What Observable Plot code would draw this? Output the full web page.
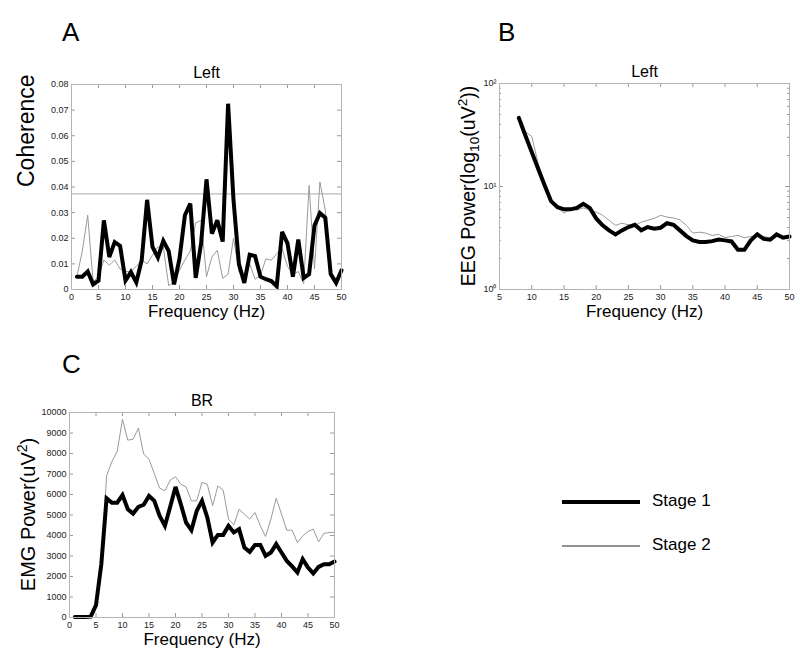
<!DOCTYPE html>
<html>
<head>
<meta charset="utf-8">
<script src="https://cdn.jsdelivr.net/npm/d3@7"></script>
<script src="https://cdn.jsdelivr.net/npm/@observablehq/plot@0.6"></script>
<style>
  body { margin: 0; background: #fff; }
  #page { position: relative; width: 800px; height: 662px; overflow: hidden; font-family: "Liberation Sans", Arial, sans-serif; }
  .panel { position: absolute; }
  .letter { position: absolute; font-size: 26px; line-height: 26px; color: #000; }
</style>
</head>
<body>
<div id="page">
  <div class="letter" style="left:62px;top:19px">A</div>
  <div class="letter" style="left:498px;top:19px">B</div>
  <div class="letter" style="left:62px;top:351px">C</div>
  <div id="pA" class="panel" style="left:0;top:50px"></div>
  <div id="pB" class="panel" style="left:420px;top:50px"></div>
  <div id="pC" class="panel" style="left:0;top:380px"></div>
  <svg id="legend" class="panel" style="left:540px;top:480px" width="200" height="90"></svg>
</div>
<script>
// ---------- data ----------
const seriesNames = ["Stage 1", "Stage 2"];

// Panel A: coherence (Left)
const freqA = [1,2,3,4,5,6,7,8,9,10,11,12,13,14,15,16,17,18,19,20,21,22,23,24,25,26,27,28,29,30,31,32,33,34,35,36,37,38,39,40,41,42,43,44,45,46,47,48,49,50];
const cohStage1 = [0.005,0.005,0.007,0.002,0.0035,0.027,0.0127,0.0185,0.017,0.0035,0.0068,0.0028,0.0114,0.035,0.0166,0.0125,0.019,0.015,0.002,0.012,0.029,0.0335,0.0045,0.018,0.043,0.0218,0.027,0.0187,0.0725,0.035,0.01,0.0026,0.0136,0.013,0.005,0.004,0.0033,0.0013,0.0225,0.018,0.005,0.0195,0.0045,0.006,0.025,0.0298,0.028,0.006,0.0026,0.0075];
const cohStage2 = [0.005,0.015,0.029,0.003,0.005,0.0115,0.0095,0.0115,0.008,0.007,0.007,0.009,0.0114,0.01,0.0134,0.0166,0.0166,0.0015,0.003,0.0075,0.0115,0.015,0.026,0.027,0.005,0.0127,0.0153,0.0043,0.006,0.02,0.007,0.0036,0.01,0.004,0.0056,0.012,0.0114,0.014,0.016,0.009,0.006,0.007,0.0023,0.0406,0.008,0.042,0.031,0.006,0.004,0.007];
const cohThreshold = [0.0373];
const xTicksA = [0,5,10,15,20,25,30,35,40,45,50];
const yTicksA = [0,0.01,0.02,0.03,0.04,0.05,0.06,0.07,0.08];

// Panel B: EEG power (Left), log scale
const freqB = [8,9,10,11,12,13,14,15,16,17,18,19,20,21,22,23,24,25,26,27,28,29,30,31,32,33,34,35,36,37,38,39,40,41,42,43,44,45,46,47,48,49,50];
const eegStage1 = [46.4,31.4,21.6,14.9,10.3,7.2,6.3,6.0,6.0,6.2,6.8,6.2,4.9,4.2,3.75,3.43,3.75,4.04,4.25,3.75,4.04,3.9,3.98,4.4,4.25,3.75,3.3,3.0,2.89,2.89,2.95,3.06,3.0,2.93,2.43,2.43,3.0,3.43,3.1,3.04,3.43,3.18,3.27];
const eegStage2 = [46,34,30.7,16.7,10.6,7.3,6.3,5.5,6.1,5.9,6.2,5.9,5.65,5.25,4.7,4.2,4.4,4.25,4.2,4.5,4.7,4.9,5.25,5.05,4.95,4.75,4.2,3.53,3.6,3.53,3.35,3.43,3.2,3.27,3.35,3.18,3.27,3.35,3.27,3.18,3.35,3.2,3.27];
const xTicksB = [5,10,15,20,25,30,35,40,45,50];
const yTicksB = [1,10,100];
const yTickLabelsB = ["10\u2070","10\u00B9","10\u00B2"];
const yMinorB = [2,3,4,5,6,7,8,9,20,30,40,50,60,70,80,90];

// Panel C: EMG power (BR)
const freqC = [1,2,3,4,5,6,7,8,9,10,11,12,13,14,15,16,17,18,19,20,21,22,23,24,25,26,27,28,29,30,31,32,33,34,35,36,37,38,39,40,41,42,43,44,45,46,47,48,49,50];
const emgStage1 = [20,20,20,40,600,2600,5820,5600,5600,5970,5280,5070,5400,5500,5930,5690,4960,4470,5400,6370,5530,4630,4260,5200,5690,4880,3660,4030,4030,4470,4150,4310,3410,3200,3540,3540,3010,3170,3580,3170,2760,2490,2200,2850,2440,2150,2470,2600,2600,2730];
const emgStage2 = [20,20,20,40,600,2600,6910,7600,8100,9670,8650,8700,9240,7970,7720,7020,6310,6180,6700,6860,6500,6370,5690,5690,6590,6500,5450,6420,6210,4800,4520,5280,5040,4800,5120,4470,3950,4800,5820,5040,4260,4260,3660,3980,4200,4310,3690,4100,4150,4150];
const xTicksC = [0,5,10,15,20,25,30,35,40,45,50];
const yTicksC = [0,1000,2000,3000,4000,5000,6000,7000,8000,9000,10000];

// ---------- styling ----------
const FONT = "Liberation Sans, Arial, sans-serif";
const FRAME = "#b4b4b4";
const TICK = "#9a9a9a";
const S1 = {stroke: "#000", strokeWidth: 4, strokeLinejoin: "miter", strokeMiterlimit: 3};
const S2 = {stroke: "#9a9a9a", strokeWidth: 1};

function rows(fr, a, b) { return fr.map((f, i) => ({f, s1: a[i], s2: b[i]})); }

function inward(xt, yt, pw, ph, len, extraY) {
  const m = [
    Plot.tickX(xt, {x: d => d, insetTop: ph - len, stroke: TICK}),
    Plot.tickX(xt, {x: d => d, insetBottom: ph - len, stroke: TICK}),
    Plot.tickY(yt, {y: d => d, insetLeft: pw - len, stroke: TICK}),
    Plot.tickY(yt, {y: d => d, insetRight: pw - len, stroke: TICK})
  ];
  if (extraY) {
    m.push(Plot.tickY(extraY, {y: d => d, insetLeft: pw - 2, stroke: TICK}));
    m.push(Plot.tickY(extraY, {y: d => d, insetRight: pw - 2, stroke: TICK}));
  }
  return m;
}

function makePanel(cfg) {
  const pw = cfg.width - cfg.ml - cfg.mr;
  const ph = cfg.height - cfg.mt - cfg.mb;
  const data = rows(cfg.freq, cfg.s1, cfg.s2);
  const marks = [
    ...inward(cfg.xTicks, cfg.yTicks, pw, ph, 4, cfg.yMinor),
    ...(cfg.extra || []),
    Plot.line(data, {x: "f", y: "s2", ...S2}),
    Plot.line(data, {x: "f", y: "s1", ...S1}),
    Plot.frame({stroke: FRAME}),
    Plot.axisX(cfg.xTicks, {tickSize: 0, tickPadding: 4, label: null, fontSize: 9, fill: "#222"}),
    Plot.axisY(cfg.yTicks, {tickSize: 0, tickPadding: 3, label: null, fontSize: 9, fill: "#222", tickFormat: cfg.yFormat}),
    Plot.text([cfg.title], {text: d => d, frameAnchor: "top", lineAnchor: "bottom", dy: -7, fontSize: 16, fill: "#000", fontFamily: FONT}),
    Plot.text(["Frequency (Hz)"], {text: d => d, frameAnchor: "bottom", lineAnchor: "top", dy: 15, fontSize: 17, fill: "#000", fontFamily: FONT})
  ];
  if (cfg.ylabelPlain) {
    marks.push(Plot.text([cfg.ylabelPlain], {text: d => d, frameAnchor: "left", rotate: -90, dx: cfg.ylabelDx, fontSize: cfg.ylabelSize, fill: "#000", fontFamily: FONT}));
  }
  const svg = Plot.plot({
    width: cfg.width, height: cfg.height,
    marginLeft: cfg.ml, marginRight: cfg.mr, marginTop: cfg.mt, marginBottom: cfg.mb,
    style: {fontFamily: FONT, fontSize: "9px", color: "#222", background: "transparent", overflow: "visible"},
    x: {domain: cfg.xDomain},
    y: {type: cfg.yType || "linear", domain: cfg.yDomain},
    marks
  });
  if (cfg.ylabelParts) {
    const t = d3.select(svg).append("text")
      .attr("transform", `translate(${cfg.ylabelX},${cfg.mt + ph / 2}) rotate(-90)`)
      .attr("text-anchor", "middle")
      .attr("dominant-baseline", "middle")
      .attr("font-family", FONT)
      .attr("font-size", cfg.ylabelSize)
      .attr("fill", "#000");
    for (const p of cfg.ylabelParts) {
      const ts = t.append("tspan").text(p.t);
      if (p.sub) ts.attr("font-size", cfg.ylabelSize * 0.7).attr("dy", 5);
      if (p.sup) ts.attr("font-size", cfg.ylabelSize * 0.7).attr("dy", -7);
      if (p.back) ts.attr("dy", p.back);
    }
  }
  return svg;
}

document.getElementById("pA").appendChild(makePanel({
  width: 360, height: 280, ml: 71, mr: 19, mt: 34, mb: 41,
  freq: freqA, s1: cohStage1, s2: cohStage2,
  xDomain: [0, 50], yDomain: [0, 0.08],
  xTicks: xTicksA, yTicks: yTicksA,
  yFormat: d => d === 0 ? "0" : d3.format(".2f")(d),
  extra: [Plot.ruleY(cohThreshold, {stroke: "#aaaaaa", strokeWidth: 1})],
  title: "Left",
  ylabelPlain: "Coherence", ylabelDx: -45, ylabelSize: 23
}));

document.getElementById("pB").appendChild(makePanel({
  width: 380, height: 280, ml: 79, mr: 11, mt: 33, mb: 41,
  freq: freqB, s1: eegStage1, s2: eegStage2,
  xDomain: [5, 50], yDomain: [1, 100], yType: "log",
  xTicks: xTicksB, yTicks: yTicksB, yMinor: yMinorB,
  yFormat: d => yTickLabelsB[yTicksB.indexOf(d)],
  title: "Left",
  ylabelParts: [{t: "EEG Power(log"}, {t: "10", sub: true}, {t: "(uV", back: -5}, {t: "2", sup: true}, {t: "))", back: 7}],
  ylabelX: 50, ylabelSize: 19.5
}));

document.getElementById("pC").appendChild(makePanel({
  width: 360, height: 282, ml: 69, mr: 26, mt: 32, mb: 45,
  freq: freqC, s1: emgStage1, s2: emgStage2,
  xDomain: [0, 50], yDomain: [0, 10000],
  xTicks: xTicksC, yTicks: yTicksC,
  yFormat: d3.format("d"),
  title: "BR",
  ylabelParts: [{t: "EMG Power(uV"}, {t: "2", sup: true}, {t: ")", back: 7}],
  ylabelX: 30, ylabelSize: 20
}));

// legend
const lg = d3.select("#legend");
const lgStyles = [{stroke: "#000", w: 4}, {stroke: "#6e6e6e", w: 1.5}];
seriesNames.forEach((name, i) => {
  const y = 22 + i * 44;
  lg.append("line").attr("x1", 22).attr("x2", 100).attr("y1", y).attr("y2", y)
    .attr("stroke", lgStyles[i].stroke).attr("stroke-width", lgStyles[i].w);
  lg.append("text").attr("x", 112).attr("y", y).attr("dominant-baseline", "middle")
    .attr("font-family", FONT).attr("font-size", 17).attr("fill", "#000").text(name);
});
</script>
</body>
</html>
